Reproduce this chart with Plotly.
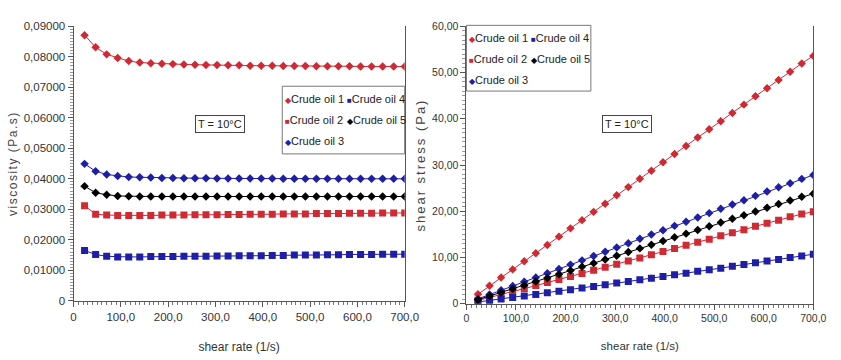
import plotly.graph_objects as go

# ---------------- data ----------------
shear_rate = [23.3, 46.7, 70.0, 93.3, 116.7, 140.0, 163.3, 186.7, 210.0, 233.3,
              256.7, 280.0, 303.3, 326.7, 350.0, 373.3, 396.7, 420.0, 443.3, 466.7,
              490.0, 513.3, 536.7, 560.0, 583.3, 606.7, 630.0, 653.3, 676.7, 700.0]

series_names = ["Crude oil 1", "Crude oil 2", "Crude oil 3", "Crude oil 4", "Crude oil 5"]

visc_oil1 = [0.0871, 0.0831, 0.0808, 0.0796, 0.0786, 0.0781, 0.0779, 0.0777, 0.0776, 0.0775,
             0.0774, 0.0773, 0.0773, 0.0772, 0.0772, 0.0771, 0.0771, 0.0771, 0.0770, 0.0770,
             0.0770, 0.0769, 0.0769, 0.0769, 0.0769, 0.0768, 0.0768, 0.0768, 0.0768, 0.0768]
visc_oil2 = [0.0312, 0.0284, 0.0281, 0.0280, 0.0280, 0.0280, 0.0280, 0.0281, 0.0281, 0.0281,
             0.0282, 0.0282, 0.0282, 0.0283, 0.0283, 0.0284, 0.0284, 0.0284, 0.0285, 0.0285,
             0.0285, 0.0286, 0.0286, 0.0286, 0.0287, 0.0287, 0.0287, 0.0288, 0.0288, 0.0288]
visc_oil3 = [0.0449, 0.0425, 0.0414, 0.0409, 0.0406, 0.0405, 0.0404, 0.0403, 0.0403, 0.0402,
             0.0402, 0.0402, 0.0401, 0.0401, 0.0401, 0.0401, 0.0401, 0.0401, 0.0400, 0.0400,
             0.0400, 0.0400, 0.0400, 0.0400, 0.0400, 0.0400, 0.0400, 0.0400, 0.0400, 0.0400]
visc_oil4 = [0.0165, 0.0152, 0.0146, 0.0144, 0.0144, 0.0144, 0.0145, 0.0145, 0.0145, 0.0146,
             0.0146, 0.0146, 0.0147, 0.0147, 0.0148, 0.0148, 0.0148, 0.0149, 0.0149, 0.0150,
             0.0150, 0.0150, 0.0151, 0.0151, 0.0152, 0.0152, 0.0152, 0.0153, 0.0153, 0.0153]
visc_oil5 = [0.0376, 0.0354, 0.0348, 0.0344, 0.0343, 0.0342, 0.0342, 0.0342, 0.0342, 0.0342,
             0.0342, 0.0342, 0.0342, 0.0342, 0.0342, 0.0342, 0.0342, 0.0342, 0.0342, 0.0342,
             0.0342, 0.0342, 0.0342, 0.0342, 0.0342, 0.0342, 0.0342, 0.0342, 0.0342, 0.0342]

stress_oil1 = [2.03, 3.88, 5.66, 7.43, 9.17, 10.93, 12.72, 14.51, 16.30, 18.08,
               19.87, 21.64, 23.45, 25.22, 27.02, 28.78, 30.59, 32.38, 34.13, 35.94,
               37.73, 39.47, 41.27, 43.06, 44.86, 46.59, 48.38, 50.17, 51.97, 53.60]
stress_oil2 = [0.73, 1.33, 1.97, 2.61, 3.27, 3.92, 4.57, 5.25, 5.90, 6.56,
               7.24, 7.90, 8.55, 9.25, 9.91, 10.60, 11.27, 11.93, 12.63, 13.30,
               13.97, 14.68, 15.35, 16.02, 16.74, 17.41, 18.08, 18.82, 19.40, 19.90]
stress_oil3 = [1.05, 1.98, 2.90, 3.82, 4.74, 5.67, 6.60, 7.52, 8.46, 9.38,
               10.32, 11.26, 12.16, 13.10, 14.04, 14.97, 15.91, 16.84, 17.73, 18.67,
               19.60, 20.53, 21.47, 22.40, 23.33, 24.27, 25.20, 26.07, 27.00, 27.85]
stress_oil4 = [0.38, 0.71, 1.02, 1.34, 1.68, 2.02, 2.37, 2.71, 3.05, 3.41,
               3.75, 4.09, 4.46, 4.80, 5.18, 5.52, 5.87, 6.26, 6.61, 7.00,
               7.35, 7.70, 8.10, 8.46, 8.87, 9.22, 9.58, 10.00, 10.35, 10.71]
stress_oil5 = [0.88, 1.65, 2.44, 3.21, 4.00, 4.79, 5.58, 6.39, 7.18, 7.98,
               8.78, 9.58, 10.37, 11.17, 11.97, 12.77, 13.57, 14.36, 15.16, 15.96,
               16.76, 17.55, 18.36, 19.15, 19.95, 20.75, 21.55, 22.34, 23.14, 23.80]

visc_ticks = [0, 0.01, 0.02, 0.03, 0.04, 0.05, 0.06, 0.07, 0.08, 0.09]
visc_ticklabels = ["0", "0,01000", "0,02000", "0,03000", "0,04000", "0,05000",
                   "0,06000", "0,07000", "0,08000", "0,09000"]
stress_ticks = [0, 10, 20, 30, 40, 50, 60]
stress_ticklabels = ["0", "10,00", "20,00", "30,00", "40,00", "50,00", "60,00"]
rate_ticks = [0, 100, 200, 300, 400, 500, 600, 700]
rate_ticklabels = ["0", "100,0", "200,0", "300,0", "400,0", "500,0", "600,0", "700,0"]

# ---------------- style ----------------
RED = "#cf2a33"
BLUE = "#1e1ea6"
BLACK = "#000000"
colors = [RED, RED, BLUE, BLUE, BLACK]
symbols = ["diamond", "square", "diamond", "square", "diamond"]
sizes = [6.5, 7, 6.5, 7, 6.5]
glyphs = ["\u25c6", "\u25a0", "\u25c6", "\u25a0", "\u25c6"]

FONT = "Liberation Sans, Arial, sans-serif"

viscosities = [visc_oil1, visc_oil2, visc_oil3, visc_oil4, visc_oil5]
stresses = [stress_oil1, stress_oil2, stress_oil3, stress_oil4, stress_oil5]

fig = go.Figure()
for name, v, c, s, sz in zip(series_names, viscosities, colors, symbols, sizes):
    fig.add_trace(go.Scatter(x=shear_rate, y=v, name=name, mode="lines+markers",
                             line=dict(color=c, width=1),
                             marker=dict(symbol=s, size=sz, color=c),
                             xaxis="x", yaxis="y", showlegend=False))
for name, v, c, s, sz in zip(series_names, stresses, colors, symbols, sizes):
    fig.add_trace(go.Scatter(x=shear_rate, y=v, name=name, mode="lines+markers",
                             line=dict(color=c, width=1),
                             marker=dict(symbol=s, size=sz, color=c),
                             xaxis="x2", yaxis="y2", showlegend=False))


def axis_common(fs):
    return dict(showgrid=False, zeroline=False, showline=True, linecolor="#555", linewidth=1,
                ticks="outside", ticklen=5, tickcolor="#555",
                tickfont=dict(family=FONT, size=fs, color="#333"))


fig.update_layout(
    width=841, height=360,
    margin=dict(l=0, r=0, t=0, b=0),
    paper_bgcolor="white", plot_bgcolor="white",
    showlegend=False,
    xaxis=dict(domain=[72 / 841, 410 / 841], anchor="y", range=[0, 700],
               tickvals=rate_ticks, ticktext=rate_ticklabels,
               minor=dict(dtick=10, ticks="outside", ticklen=3, tickcolor="#777"),
               title=dict(text="shear rate (1/s)", font=dict(family=FONT, size=12, color="#333"),
                          standoff=20),
               **axis_common(11.5)),
    yaxis=dict(domain=[1 - 305 / 360, 1 - 21 / 360], anchor="x", range=[0, 0.09],
               tickvals=visc_ticks, ticktext=visc_ticklabels, mirror=True,
               minor=dict(dtick=0.001, ticks="outside", ticklen=3, tickcolor="#999"),
               title=dict(text='<span style="letter-spacing:1.5px">viscosity (Pa.s)</span>',
                          font=dict(family=FONT, size=12, color="#444"), standoff=3),
               **axis_common(11.5)),
    xaxis2=dict(domain=[473 / 841, 827 / 841], anchor="y2", range=[0, 700],
                tickvals=rate_ticks, ticktext=rate_ticklabels,
                minor=dict(dtick=10, ticks="outside", ticklen=3, tickcolor="#777"),
                title=dict(text="shear rate (1/s)", font=dict(family=FONT, size=11.5, color="#333"),
                           standoff=18),
                **axis_common(10.5)),
    yaxis2=dict(domain=[1 - 308 / 360, 1 - 21 / 360], anchor="x2", range=[0, 60],
                tickvals=stress_ticks, ticktext=stress_ticklabels, mirror=True,
                minor=dict(dtick=1, ticks="outside", ticklen=3, tickcolor="#999"),
                title=dict(text='<span style="letter-spacing:2px">shear stress (Pa)</span>',
                           font=dict(family=FONT, size=13, color="#444"), standoff=3),
                **axis_common(10.5)),
)

# temperature labels
for xd, xpos in (("x domain", 0.443), ("x2 domain", 0.462)):
    fig.add_annotation(text="T = 10°C", xref=xd, yref="paper",
                       x=xpos, y=1 - 113 / 360,
                       showarrow=False, font=dict(family=FONT, size=11, color="#222"),
                       bordercolor="#444", borderwidth=1, borderpad=2, bgcolor="white")


# legends (two columns: 1,2,3 / 4,5) built from the series lists
def add_legend(x0, y0, w, h, col_dx, row_dy, fs):
    fig.add_shape(type="rect", xref="paper", yref="paper",
                  x0=x0 / 841, x1=(x0 + w) / 841, y0=1 - (y0 + h) / 360, y1=1 - y0 / 360,
                  line=dict(color="#777", width=1), fillcolor="white", layer="above")
    for i, (name, c, g) in enumerate(zip(series_names, colors, glyphs)):
        col, row = (0, i) if i < 3 else (1, i - 3)
        fig.add_annotation(
            xref="paper", yref="paper", xanchor="left", yanchor="middle",
            x=(x0 + 1 + col * col_dx) / 841, y=1 - (y0 + 13 + row * row_dy) / 360,
            text=f'<span style="color:{c};font-size:8px">{g}</span>{name}',
            showarrow=False, font=dict(family=FONT, size=fs, color="#222"))


add_legend(285, 83, 125, 70, 63, 22, 11)
add_legend(473, 20, 127, 68, 63, 22, 11)

fig.write_html("out.html")
